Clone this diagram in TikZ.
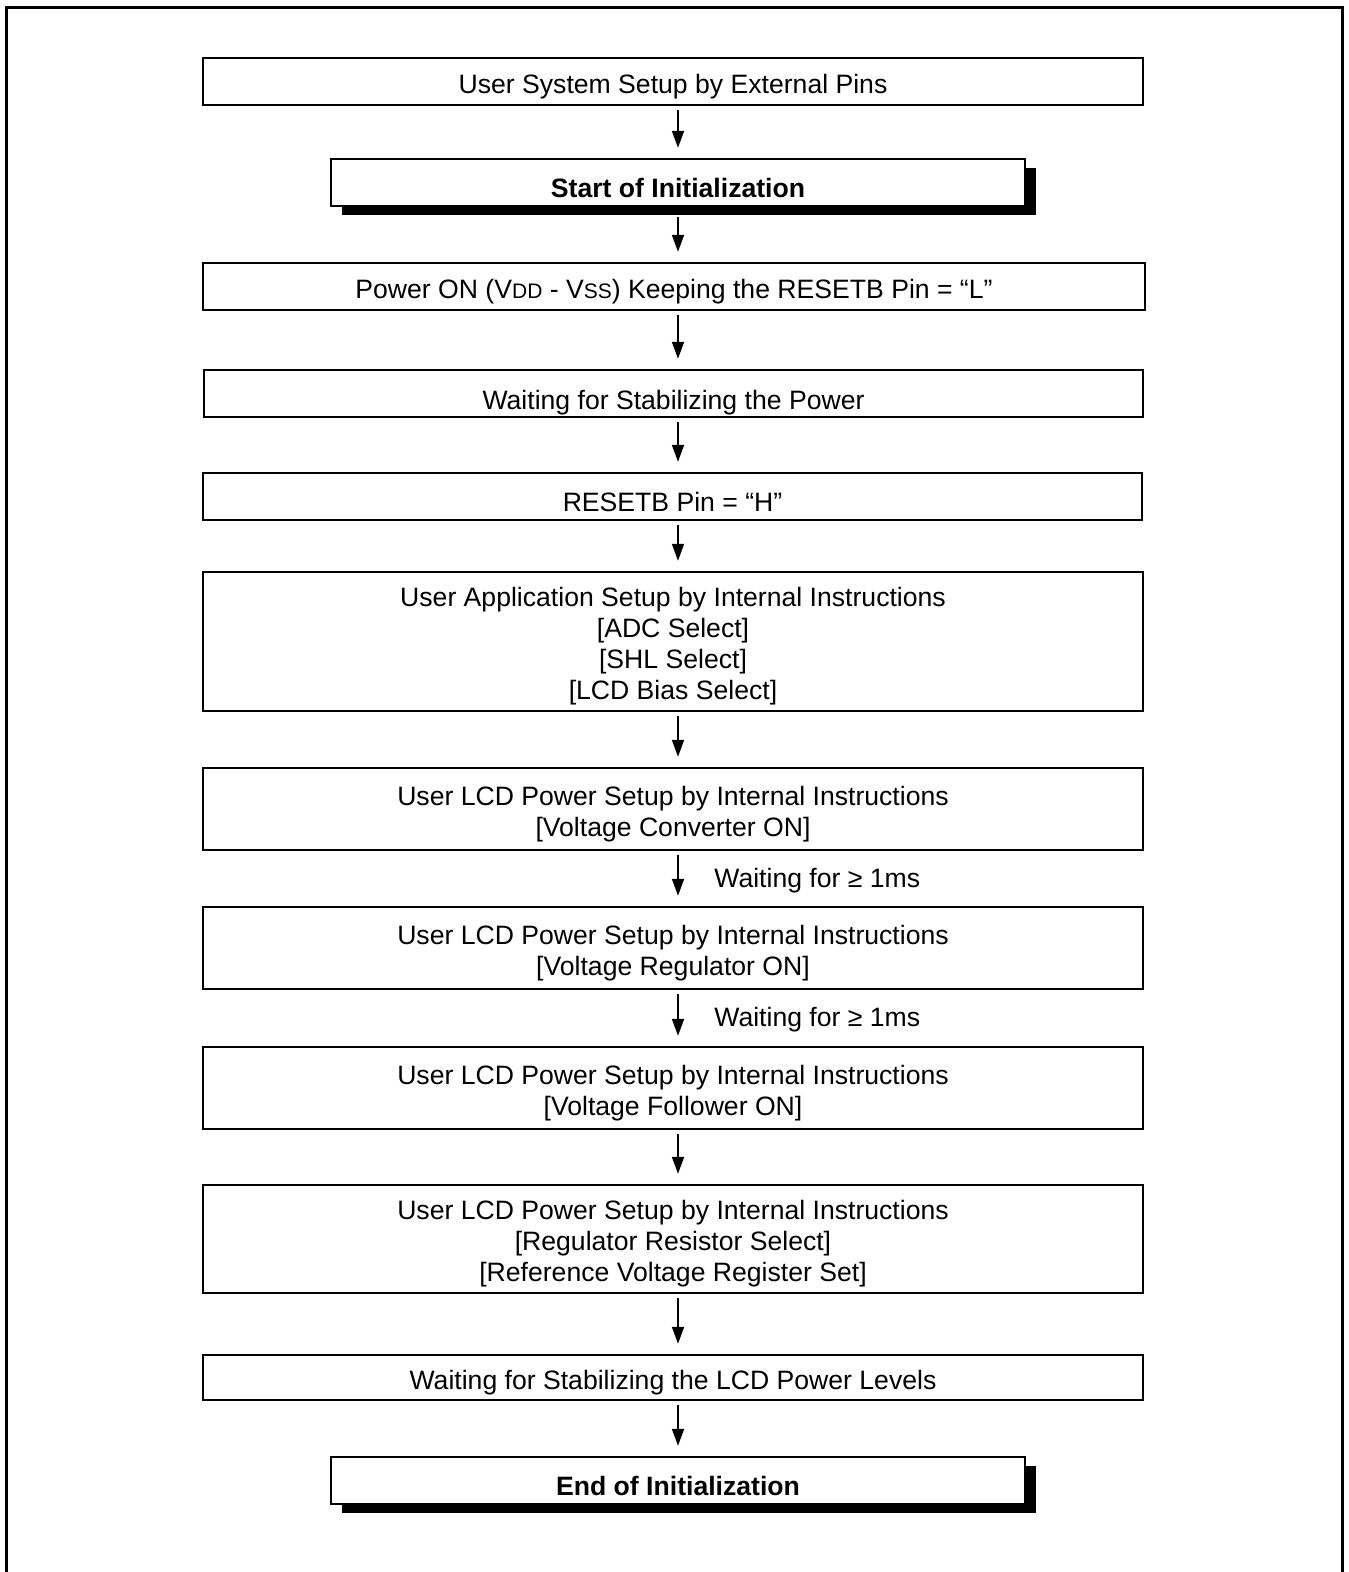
\documentclass[tikz,border=0pt]{standalone}
\usepackage{fontspec}
\setmainfont{Liberation Sans}
\usetikzlibrary{arrows.meta,shadows}

\newcommand{\toplift}{\rule{0pt}{14.7pt}}

\tikzset{
  stepbox/.style={draw, line width=1.2pt, inner sep=0pt, align=center,
                  minimum width=470pt, minimum height=23.5pt,
                  font=\fontsize{13.3}{15.5}\selectfont,
                  execute at begin node={\toplift}},
  termbox/.style={stepbox, minimum width=347pt, fill=white,
                  font=\fontsize{13.3}{15.5}\selectfont\bfseries,
                  drop shadow={shadow xshift=5.5pt, shadow yshift=-4.5pt,
                               fill=black, opacity=1}},
  flow/.style={line width=0.9pt, -{Triangle[length=8.5pt,width=6pt]},
               shorten <=2pt, shorten >=5pt},
  waitnote/.style={anchor=west, inner sep=0pt, font=\fontsize{13.3}{15}\selectfont}
}

\begin{document}
\begin{tikzpicture}[x=0.5pt,y=-0.5pt]
   \useasboundingbox (0,0) rectangle (1348,1572);
   % outer frame, open at the bottom
   \draw[line width=1.5pt] (6,1572) -- (6,8) -- (1342,8) -- (1342,1572);

   \node[stepbox] (pins) at (673,81.5) {User System Setup by External Pins};
   \node[termbox] (start) at (678,182.5) {Start of Initialization};
   \node[stepbox, minimum width=471pt] (pwron) at (674,286.5)
      {Power ON (V{\fontsize{10.5}{12}\selectfont DD} - V{\fontsize{10.5}{12}\selectfont SS}) Keeping the RESETB Pin = “L”};
   \node[stepbox, minimum width=469.5pt] (stab) at (673.5,393.5)
      {\raisebox{-2pt}[9.6pt][2.8pt]{Waiting for Stabilizing the Power}};
   \node[stepbox, minimum width=469.5pt] (rsth) at (672.5,496.5) {RESETB Pin = “H”};
   \node[stepbox, minimum height=69.5pt] (appl) at (673,641.5)
      {\toplift User Application Setup by Internal Instructions\\
       {[ADC Select]}\\ {[SHL Select]}\\ {[LCD Bias Select]}};
   \node[stepbox, minimum height=41pt] (conv) at (673,809)
      {\toplift User LCD Power Setup by Internal Instructions\\ {[Voltage Converter ON]}};
   \node[stepbox, minimum height=41pt] (regu) at (673,948)
      {\toplift User LCD Power Setup by Internal Instructions\\ {[Voltage Regulator ON]}};
   \node[stepbox, minimum height=41pt] (foll) at (673,1088)
      {\toplift User LCD Power Setup by Internal Instructions\\ {[Voltage Follower ON]}};
   \node[stepbox, minimum height=54pt] (rsel) at (673,1239)
      {\toplift User LCD Power Setup by Internal Instructions\\
       {[Regulator Resistor Select]}\\ {[Reference Voltage Register Set]}};
   \node[stepbox, minimum height=22.5pt] (lcdst) at (673,1377.5)
      {Waiting for Stabilizing the LCD Power Levels};
   \node[termbox] (end) at (678,1480.5) {End of Initialization};

   \node[waitnote] (wait1) at (714,881) {Waiting for ≥ 1ms};
   \node[waitnote] (wait2) at (714,1020) {Waiting for ≥ 1ms};

   \draw[flow] (pins.south -| start) -- (start.north);
   \draw[flow, shorten <=5pt] (start.south) -- (pwron.north -| start);
   \draw[flow] (pwron.south -| start) -- (stab.north -| start);
   \draw[flow] (stab.south -| start) -- (rsth.north -| start);
   \draw[flow] (rsth.south -| start) -- (appl.north -| start);
   \draw[flow] (appl.south -| start) -- (conv.north -| start);
   \draw[flow] (conv.south -| start) -- (regu.north -| start);
   \draw[flow] (regu.south -| start) -- (foll.north -| start);
   \draw[flow] (foll.south -| start) -- (rsel.north -| start);
   \draw[flow] (rsel.south -| start) -- (lcdst.north -| start);
   \draw[flow] (lcdst.south -| start) -- (end.north);
\end{tikzpicture}
\end{document}
